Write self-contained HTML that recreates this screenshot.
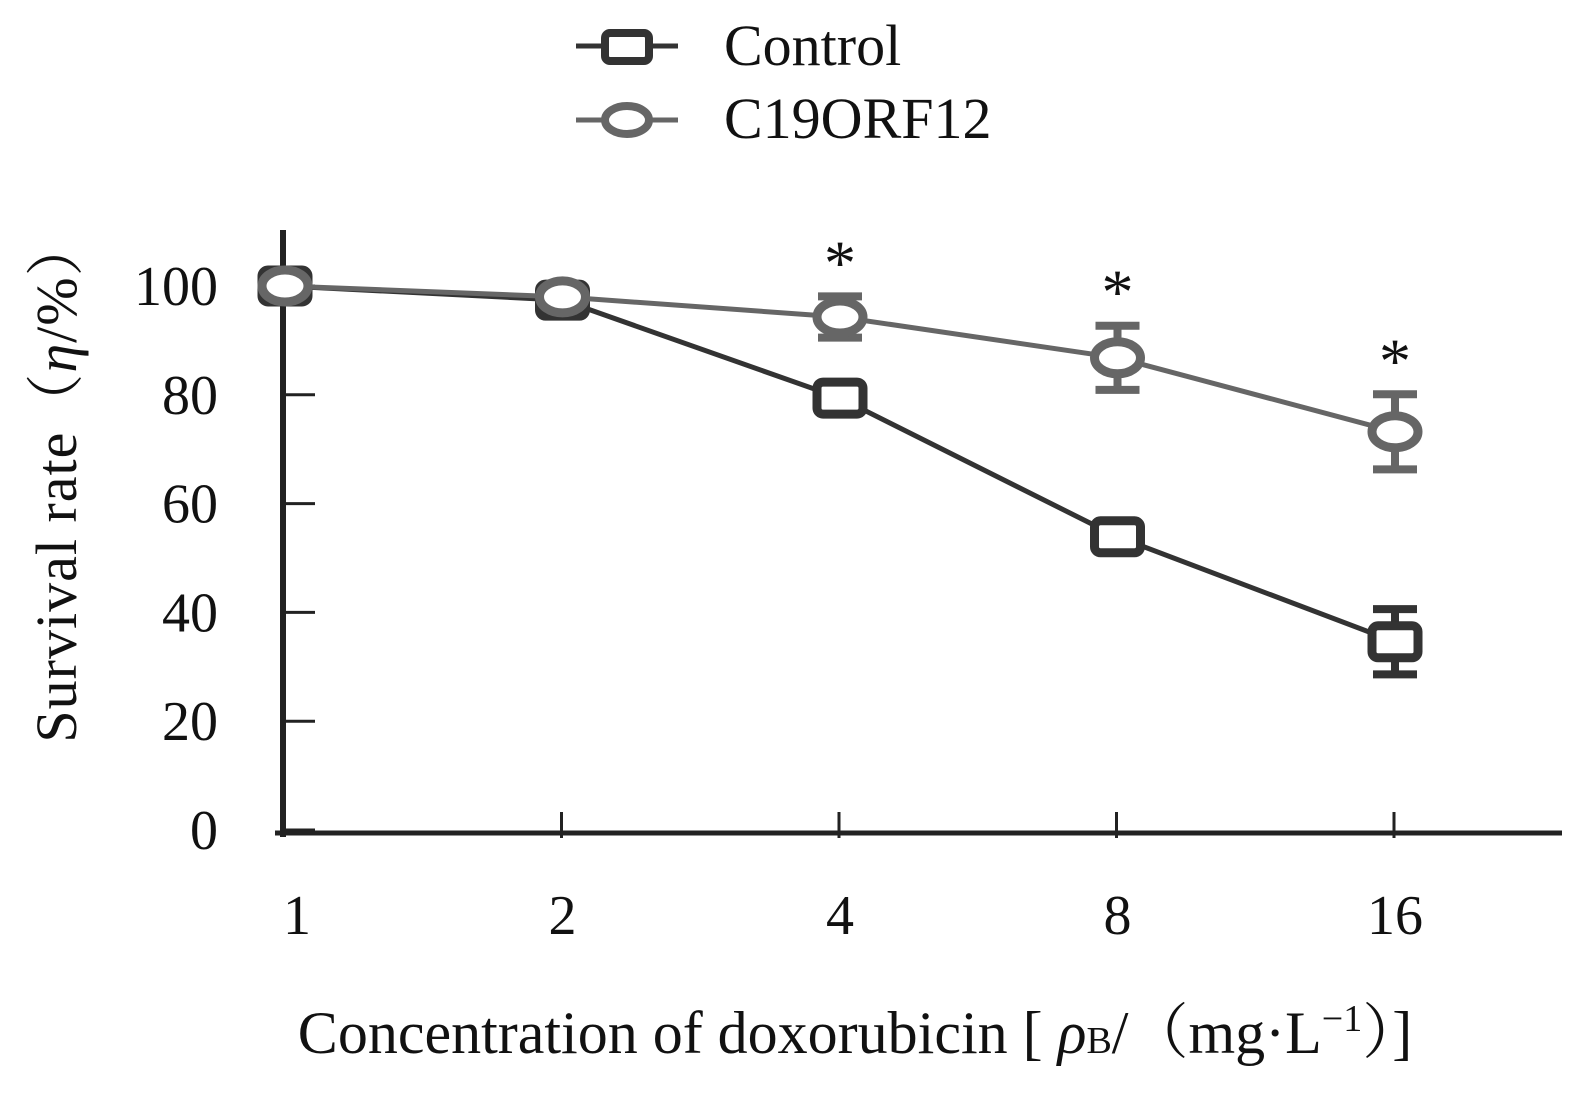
<!DOCTYPE html>
<html><head><meta charset="utf-8"><style>
html,body{margin:0;padding:0;background:#fff;}
svg{display:block;font-family:"Liberation Serif","Noto Serif CJK SC",serif;}
</style></head><body>
<svg id="chart" width="1593" height="1110" viewBox="0 0 1593 1110">
<g id="legend">
 <g>
  <line x1="576" y1="46" x2="678" y2="46" stroke="#333" stroke-width="5"/>
  <rect x="605" y="33" width="44" height="28" rx="5" fill="#fff" stroke="#333" stroke-width="8"/>
  <text x="724" y="65" font-size="58" fill="#111">Control</text>
 </g>
 <g>
  <line x1="576" y1="120" x2="678" y2="120" stroke="#666" stroke-width="5"/>
  <ellipse cx="627" cy="120" rx="22" ry="14" fill="#fff" stroke="#666" stroke-width="8"/>
  <text x="724" y="138" font-size="58" fill="#111">C19ORF12</text>
 </g>
</g>
<g id="axes"></g>
<g id="series"></g>
<text transform="translate(76,480) rotate(-90)" text-anchor="middle" font-size="58" letter-spacing="1" fill="#111">Survival rate（<tspan font-style="italic">η</tspan>/%）</text>
<text x="855" y="1053" text-anchor="middle" font-size="60" fill="#111">Concentration of doxorubicin [ <tspan font-style="italic">ρ</tspan><tspan font-size="38">B</tspan>/（mg·L<tspan font-size="38" dy="-22">−1</tspan><tspan dy="22">）]</tspan></text>
</svg>
<script>
const categories=["1","2","4","8","16"];
const yTicks=[0,20,40,60,80,100];
const controlValues=[100,97.4,79.4,53.9,34.6];
const controlErrors=[1,1,1.5,1.5,6];
const c19Values=[100,98,94.3,86.8,73.2];
const c19Errors=[1,1,3.8,5.9,6.9];
const sig=["","","*","*","*"];
const NS="http://www.w3.org/2000/svg";
function X(i){return 285+i*277.5;}
function Y(v){return 830-5.44*v;}
function mk(tag,at,parent){const e=document.createElementNS(NS,tag);for(const k in at)e.setAttribute(k,at[k]);parent.appendChild(e);return e;}
const ax=document.getElementById('axes'),se=document.getElementById('series');
let e=mk('line',{x1:283,y1:230,x2:283,y2:837,stroke:'#222','stroke-width':6},ax);


e=mk('line',{x1:275,y1:833,x2:1562,y2:833,stroke:'#222','stroke-width':5},ax);


yTicks.forEach(v=>{
 e=mk('line',{x1:283,y1:Y(v),x2:315,y2:Y(v),stroke:'#222','stroke-width':3},ax);
 
 
 e=mk('text',{x:218,y:Y(v)+19,'text-anchor':'end','font-size':56,fill:'#111'},ax);
 e.textContent=v;
 
 
});
categories.forEach((c,i)=>{
 if(i>0){e=mk('line',{x1:X(i)-1,y1:812,x2:X(i)-1,y2:838,stroke:'#222','stroke-width':3},ax);
 
 }
 e=mk('text',{x:X(i)+(i==0?12:0),y:934,'text-anchor':'middle','font-size':56,fill:'#111'},ax);
 e.textContent=c;
 
 
});
function series(vals,errs,col,shape,name){
 const g=mk('g',{},se);
 
 
 e=mk('polyline',{points:vals.map((v,i)=>X(i)+','+Y(v)).join(' '),fill:'none',stroke:col,'stroke-width':5},g);
 
 
 vals.forEach((v,i)=>{
  const x=X(i),y=Y(v),t=Y(v+errs[i]),b=Y(v-errs[i]);
  e=mk('path',{d:`M${x},${t}V${b}M${x-22},${t}H${x+22}M${x-22},${b}H${x+22}`,stroke:col,'stroke-width':8,fill:'none'},g);
  
  
  if(shape=='rect') e=mk('rect',{x:x-23,y:y-16,width:46,height:32,rx:6,fill:'#fff',stroke:col,'stroke-width':9},g);
  else e=mk('ellipse',{cx:x,cy:y,rx:23,ry:16,fill:'#fff',stroke:col,'stroke-width':9},g);
  
  
 });
}
series(controlValues,controlErrors,'#333','rect','control-series');
series(c19Values,c19Errors,'#666','ellipse','c19orf12-series');
sig.forEach((s,i)=>{if(!s)return;
 e=mk('text',{x:X(i),y:Y(c19Values[i]+c19Errors[i])-12,'text-anchor':'middle','font-size':64,fill:'#111'},se);
 e.textContent=s;
 
 
});
</script>
</body></html>
